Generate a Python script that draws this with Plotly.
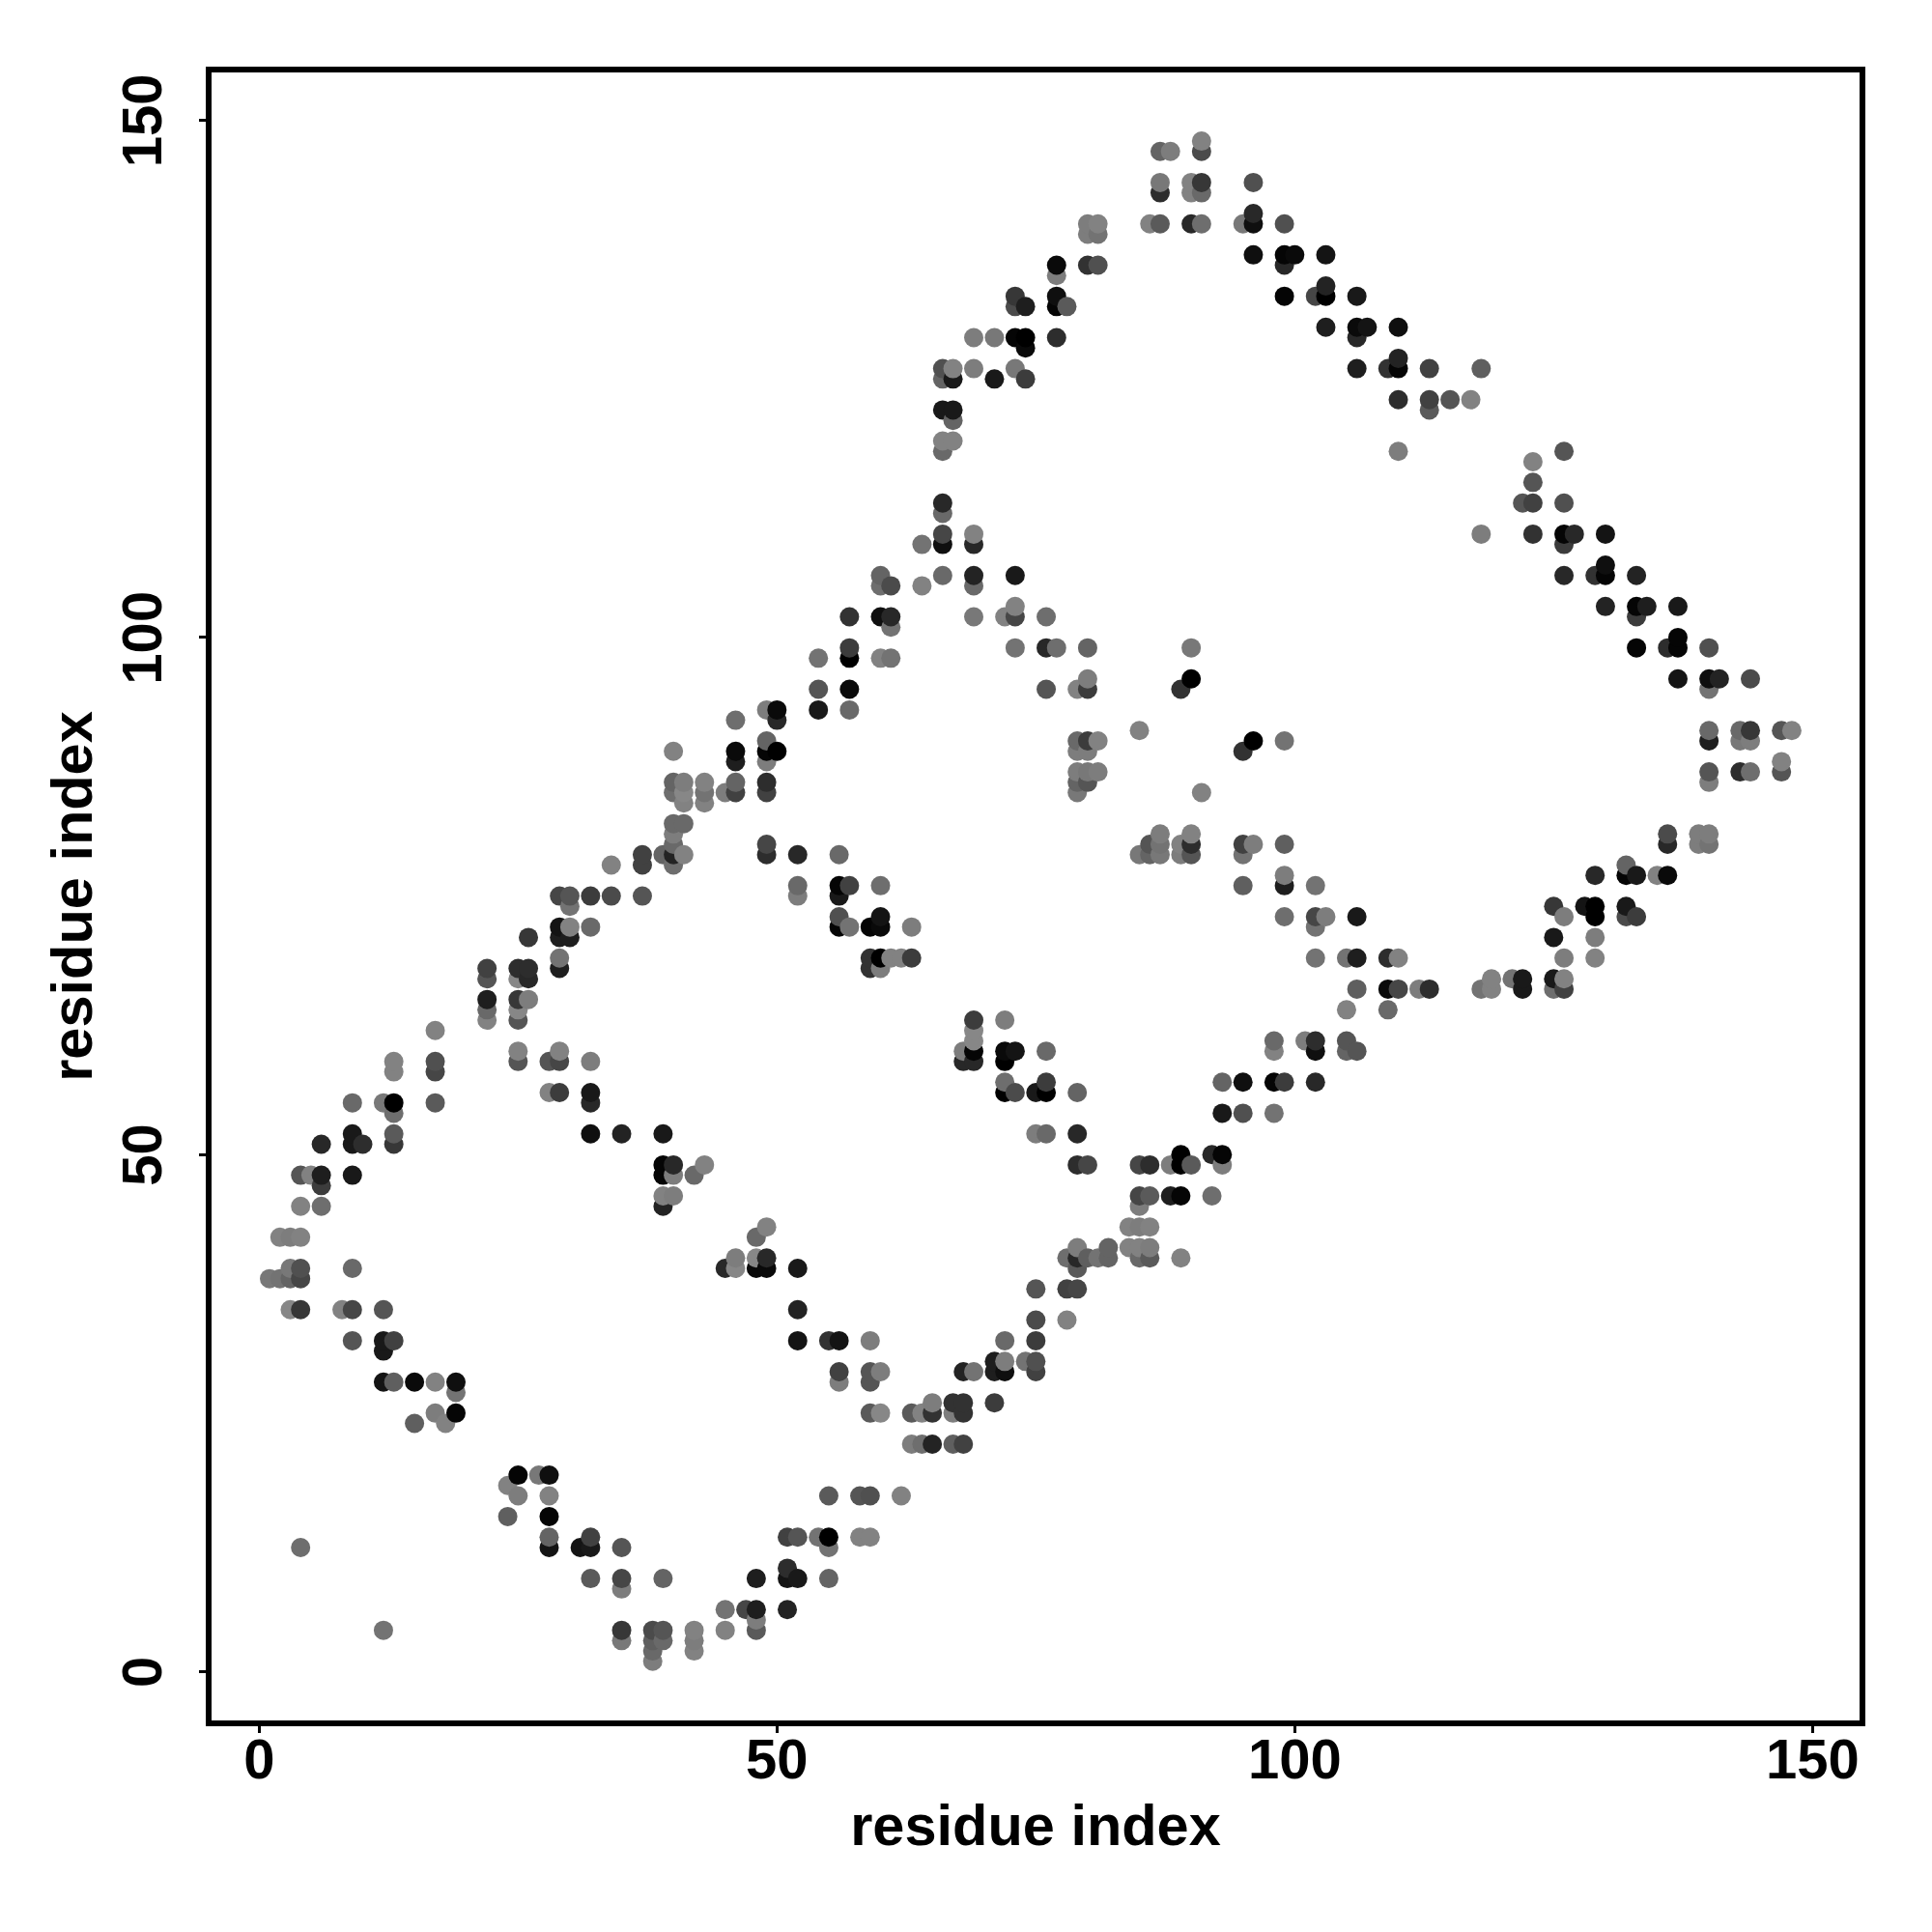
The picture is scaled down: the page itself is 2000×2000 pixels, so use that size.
import numpy as np
import plotly.graph_objects as go

tick_values = [0, 50, 100, 150]
axis_title = "residue index"

# one entry per row: residue index on the vertical axis
row_j = [148,147,144,143,141,140,139,137,136,135,134,133,132,130,129,128,127,126,125,123,122,121,119,118,117,115,113,112,110,109,107,106,105,103,102,101,100,99,98,96,95,93,92,91,90,89,88,87,86,85,84,82,81,80,79,78,77,76,75,74,73,72,71,69,68,67,66,65,64,63,62,61,60,59,58,57,56,55,54,52,51,50,49,48,47,46,45,43,42,41,40,39,38,37,35,34,32,31,30,29,28,27,26,25,24,22,19,18,17,15,13,12,10,9,8,6,5,4,3,2,1]

# residue index on the horizontal axis, per row
cols_i = [
[91],[87,88,91],[87,90,91,96],[87,90,91],[96],[80,81,86,87,90,91,95,96,99],[80,81],[96,99,100,103],[77,80,81,99],[77],[103],
[73,77,99,102,103,106],[73,74,77,78],[103,106,107,110],[69,71,73,74,77,106],[74],[110],[66,67,69,73,106,109,110,113,118],
[66,67,71,74],[110,113,115,117],[66,67,113],[67],[66,67],[66,110,126],[123],[123],[66,122,123,126],[66],
[66,69,118,123,126,127,130],[64,66,69,126],[130],[60,66,69,73,126,129,130,133],[60,61,64,69],[73,130,133,134,137],
[57,60,61,69,72,73,76,133],[61],[137],[57,73,76,77,80,90,133,136,137,140],[54,57,60,61],[80,90,137,140,141,144],
[54,57,76,79,80,89,140],[49,50,54,57],[46,50],[85,140,143,144,147,148],[49,79,80,81,96,99,140,143,144],
[40,46,49,50,79,80,95],[46,49,147],[79,80,81,140,143,144,147],[40,41,43,46,49,79,80,140],[40,41,43,45,46,49,79,91],[41,43],
[40,41],[40,87,90,136,139,140],[40,49,86,87,89,90,95,96,99,136,139,140],[37,39,40,41,49,52,56,85,86,87,89,90,95],
[34,37,40,132],[99,129,132,133,135,136],[52,56,57,60,95,99,102],[29,30,32,34,37,52,56],[30,125,128,129,132],
[56,60,99,102,103,106,126,129,132,133],[29,30,32,56,57,59,60,63,102],[26,29,30,125,129],
[29,59,60,61,62,63,102,105,106,109,110,126,129],[22,25,26,29,59,60],[22,25,26,119,121,122,125,126],
[106,109,110,112,113,118,119,122,125,126],[22,25,26],[22,25,105,109],[22,25,69,72],[17,69],[69,98,101,102,105],
[25,29,68,69,72,73,76,98,102,105,106],[13,17,25,28,29,32,68,69,72],[13,17],[72,76,93,95,98,99,102],[28,29,32,72,73,75,76,79],
[9,12,13,17,32],[13,93,95,98],[9,13,32,35,39,75,76,79],[6,9,10,13],[89,92,93],[39,40,43,79,80,85,86,88,89,90,93],
[4,5,6,9,39,40,42],[6],[39,40,85,86,88,89,92],[4,6,39,85],[49,84,85,86],[2,3,4,48],[79,82,84,85,86],
[46,48,49,78,79,80,81,82,85,86,89],[3,4,9,45,46,48,49,52,79],[1,2,3,4],[75,78,79],[3,4,8,9,12,52],[75,78],
[9,12,13,52,55,56,59,72,75],[12],[71,72,74,75],[56,59,60,68,69,71,72,75],[12,13,15,17,19,56,59],[19],[65,67,68,71],
[17,19,59,60,63,64,65,67,68],[15,18],[63,64,65,67,68],[25,27,28],[24],[25,28,55,58,59,62],[24,28],
[28,32,51,52,54,55,58,59],[4,28,31,32,35,55],[51],[32,35,39,48,51,52,55],[35],[45,47,48,51],[48],
[12,35,38,39,42,45,48],[35,38,39,42],[38,42],[38],
]

# grey level of each point, per row
shades = [
[130],[100,125,75],[120,130,55,80],[45,130,105],[40],[125,130,130,90,40,110,120,15,80],[125,115],[15,5,10,20],[10,50,80,40],[125],[35],
[55,15,5,70,0,25],[75,30,5,90],[30,10,20,15],[125,120,5,0,45,40],[10],[35],[80,130,125,120,30,50,5,65,95],
[100,25,25,60],[45,65,85,130],[25,25,90],[100],[130,130],[105,125,85],[130],[85],[40,85,65,80],[105],
[70,130,125,50,5,40,20],[115,15,40,60],[15],[100,105,35,25,40,50,5,35],[110,75,130,105],[130,35,5,30,25],
[50,15,40,120,130,70,110,60],[115],[5],[60,115,40,110,100,120,5,45,5,80],[115,0,130,115],[125,0,20,15,35,75],
[85,10,85,130,60,50,115],[125,10,25,105],[110,40],[130,105,105,55,85,130],[100,105,60,130,0,115,30,120,125],
[130,10,5,0,125,125,50],[30,125,130],[125,120,125,85,45,110,85],[100,125,130,100,45,100,85,125],[110,135,115,125,65,65,120,130],[130,130],
[105,105],[125,125,130,75,125,125],[105,70,85,115,130,45,65,125,95,40,125,115],[65,100,35,130,45,40,105,120,100,120,125,85,115],
[130,65,110,100],[125,40,5,25,130,10],[105,5,65,110,95,30,115],[70,85,60,75,85,125,25],[115,55,20,0,25],
[80,20,110,70,125,25,125,0,75,60],[20,130,105,5,115,5,10,125,115],[55,30,30,25,125],
[115,50,0,130,130,60,115,115,30,45,130,125,130],[65,45,45,30,50,125],[85,135,40,130,115,25,25,130],
[95,10,70,125,45,115,130,25,110,65],[30,55,125],[105,135,130,105],[130,85,60,125],[130,135],[135,105,125,45,85],
[130,130,125,5,10,20,105,130,15,100,85],[130,80,85,85,70,125,40,40,0],[130,70],[110,60,100,15,5,60,40],[130,60,25,0,75,25,0,100],
[105,120,0,90,40],[110,25,80,115],[25,90,15,35,25,125,105,40],[40,25,45,55],[0,40,5],[5,40,130,45,70,70,45,125,0,90,125],
[85,130,30,25,5,125,105],[60],[130,125,70,90,30,5,110],[130,110,35,125],[130,130,125,130],[130,125,130,105],[125,100,130,130,125],
[125,135,40,110,40,95,115,100,105,90,130],[120,80,105,40,135,10,10,25,90],[120,115,100,70],[85,65,70],[135,55,130,70,85,35],[75,130],
[85,25,65,20,50,20,125,105,60],[25],[30,125,115,80],[65,85,125,35,115,30,15,65],[20,95,10,130,15,125,85],[115],[125,50,50,60],
[125,5,90,135,90,130,50,125,50],[95,130],[125,110,35,95,65],[5,120,15],[130],[125,130,90,85,80,130],[95,5],
[100,65,65,85,115,0,130,130],[110,20,20,25,85,115],[45],[90,70,100,30,20,25,100],[125],[115,70,30,35],[125],
[115,55,75,85,130,130,90],[120,95,105,125],[105,130],[125],
]

assert len(row_j) == len(cols_i) == len(shades)
for a, b, c in zip(row_j, cols_i, shades):
    assert len(b) == len(c), a

x = np.concatenate([np.array(c, float) for c in cols_i])
y = np.concatenate([np.full(len(c), j, float) for j, c in zip(row_j, cols_i)])
g = np.concatenate([np.array(s, int) for s in shades])
order = np.lexsort((y, x))
x, y, g = x[order], y[order], g[order]
colors = [f"rgb({v},{v},{v})" for v in g]

fig = go.Figure(go.Scatter(
    x=x, y=y, mode="markers",
    marker=dict(size=20, color=colors, line=dict(width=0)),
    hoverinfo="skip", showlegend=False,
))

FONT = dict(family="Liberation Sans", size=58, color="black", weight=700)
axis_common = dict(
    tickmode="array", tickvals=tick_values, ticktext=[str(v) for v in tick_values],
    showgrid=False, zeroline=False, showline=True, linecolor="black", linewidth=5.5,
    mirror=True, ticks="outside", ticklen=7, tickwidth=2.5, tickcolor="black",
    tickfont=FONT, title=dict(text=axis_title, font=dict(family="Liberation Sans", size=59.5, color="black", weight=700)),
)
fig.update_xaxes(range=[-4.6, 154.54], ticklabelstandoff=-22, **axis_common)
fig.update_yaxes(range=[-4.72, 154.64], tickangle=-90, ticklabelstandoff=16, ticklabelshift=9, **axis_common)
fig.update_layout(
    width=2000, height=2000, autosize=False,
    margin=dict(l=211, r=83, t=67, b=226.5),
    paper_bgcolor="white", plot_bgcolor="white",
)
fig.layout.xaxis.title.standoff = 18
fig.layout.yaxis.title.standoff = 1
fig.write_html("out.html")
